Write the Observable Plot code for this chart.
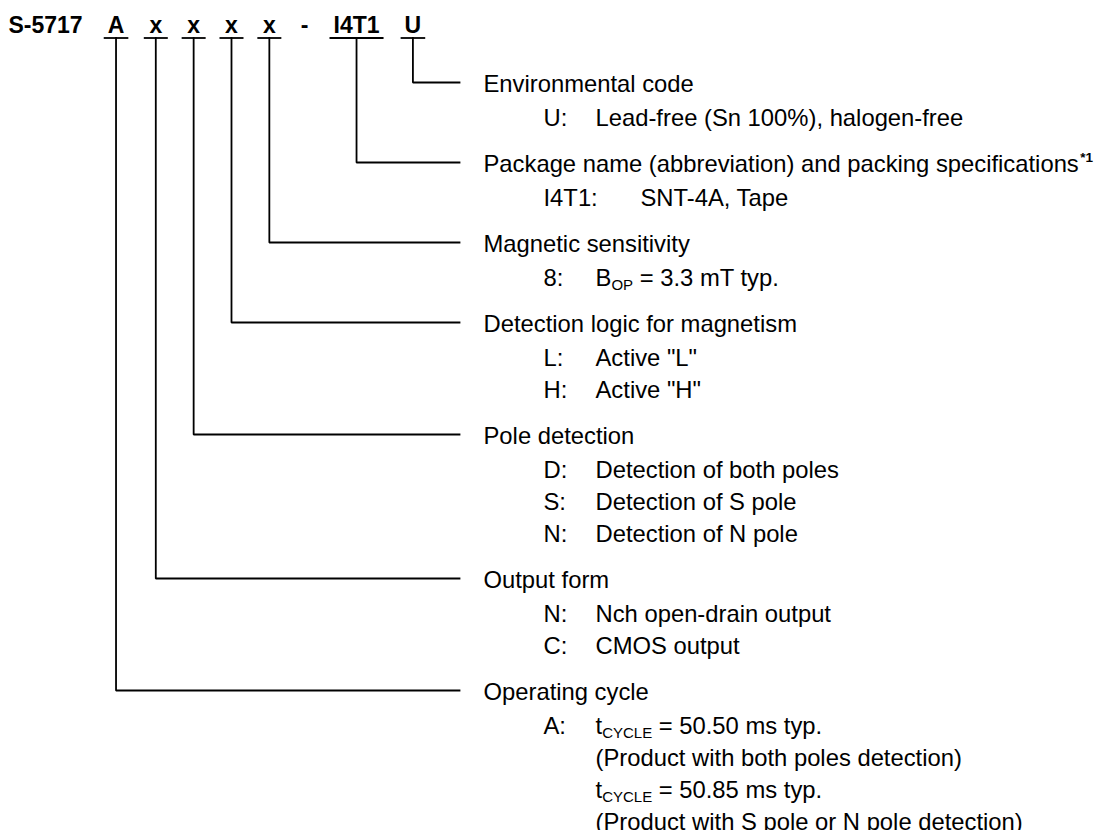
<!DOCTYPE html>
<html><head><meta charset="utf-8">
<script src="https://cdn.jsdelivr.net/npm/d3@7"></script>
<script src="https://cdn.jsdelivr.net/npm/@observablehq/plot@0.6"></script>
<style>
html,body{margin:0;padding:0;background:#fff;}
#chart svg text{white-space:pre;}
</style></head><body><div id="chart"></div>
<script>
// ---- data ----
const prefix = "S-5717";
const codeTokens = ["A", "x", "x", "x", "x", "-", "I4T1", "U"];
const fieldTitles = [
  "Environmental code",
  "Package name (abbreviation) and packing specifications^{*1}",
  "Magnetic sensitivity",
  "Detection logic for magnetism",
  "Pole detection",
  "Output form",
  "Operating cycle"
];
const fieldToken = [7, 6, 4, 3, 2, 1, 0];
const fieldKeys = [
  ["U:"],
  ["I4T1:"],
  ["8:"],
  ["L:", "H:"],
  ["D:", "S:", "N:"],
  ["N:", "C:"],
  ["A:", "", "", ""]
];
const fieldValues = [
  ["Lead-free (Sn 100%), halogen-free"],
  ["SNT-4A, Tape"],
  ["B_{OP} = 3.3 mT typ."],
  ['Active "L"', 'Active "H"'],
  ["Detection of both poles", "Detection of S pole", "Detection of N pole"],
  ["Nch open-drain output", "CMOS output"],
  ["t_{CYCLE} = 50.50 ms typ.", "(Product with both poles detection)", "t_{CYCLE} = 50.85 ms typ.", "(Product with S pole or N pole detection)"]
];

// ---- layout ----
const W = 1095, H = 830;
const family = "'Liberation Sans', Arial, Helvetica, sans-serif";
const codeSize = 23, bodySize = 23.8, subSize = 15, supSize = 13.5;
const codeFont = `bold ${codeSize}px ${family}`;
const bodyFont = `${bodySize}px ${family}`;
const ctx = document.createElement("canvas").getContext("2d");
const measure = (t, f) => { ctx.font = f; return ctx.measureText(t).width; };

const codeLeft = 8, codeBaseline = 32, underlineY = 37.5;
const gap = 4 * measure(" ", codeFont) - 0.5;
let cursor = codeLeft + measure(prefix, codeFont) + gap;
const tokens = codeTokens.map((t, i) => {
  const w = measure(t, codeFont);
  const cx = cursor + w / 2;
  cursor += w + gap;
  const uw = Math.max(w + 8, 24);
  return {t, i, cx, x1: cx - uw / 2, x2: cx + uw / 2, underline: t !== "-"};
});

const titleX = 483, keyX = 543, branchEnd = 459;
const firstY = 82, firstItem = 34, rowH = 32, fieldGap = 46, textDy = 1.5;
const titles = [], items = [], branches = [];
let y = firstY;
fieldTitles.forEach((title, f) => {
  titles.push({text: title, y});
  const tok = tokens[fieldToken[f]];
  branches.push({id: f, x: tok.cx, y: underlineY}, {id: f, x: tok.cx, y}, {id: f, x: branchEnd, y});
  fieldKeys[f].forEach((k, j) => {
    const ry = y + firstItem + j * rowH;
    const kw = measure(k, bodyFont);
    let vx = keyX + 52;
    while (keyX + kw + 16 > vx) vx += 45;
    items.push({key: k, value: fieldValues[f][j], y: ry, vx});
  });
  y += firstItem + (fieldKeys[f].length - 1) * rowH + fieldGap;
});

const textBase = {fill: "black", textAnchor: "start", lineAnchor: "middle", fontFamily: family};
const chart = Plot.plot({
  width: W, height: H, margin: 0, inset: 0,
  x: {domain: [0, W], range: [0, W], axis: null},
  y: {domain: [0, H], range: [0, H], axis: null},
  style: {background: "white", fontFamily: family, overflow: "visible"},
  marks: [
    Plot.line(branches, {x: "x", y: "y", z: "id", stroke: "black", strokeWidth: 1.8, strokeLinejoin: "miter", strokeLinecap: "square"}),
    Plot.link(tokens.filter(d => d.underline), {x1: "x1", x2: "x2", y1: () => underlineY, y2: () => underlineY, stroke: "black", strokeWidth: 1.8}),
    Plot.text([prefix], {...textBase, x: () => codeLeft, y: () => codeBaseline - 0.32 * codeSize, text: d => d, fontSize: codeSize, fontWeight: "bold"}),
    Plot.text(tokens, {...textBase, textAnchor: "middle", x: "cx", y: () => codeBaseline - 0.32 * codeSize, text: "t", fontSize: codeSize, fontWeight: "bold"}),
    Plot.text(titles, {...textBase, x: () => titleX, y: d => d.y + textDy, text: "text", fontSize: bodySize}),
    Plot.text(items, {...textBase, x: () => keyX, y: d => d.y + textDy, text: "key", fontSize: bodySize}),
    Plot.text(items, {...textBase, x: "vx", y: d => d.y + textDy, text: "value", fontSize: bodySize})
  ]
});

// rich text: _{sub} and ^{sup}
chart.querySelectorAll("text").forEach(el => {
  const s = el.textContent;
  if (!/[_^]\{/.test(s)) return;
  el.textContent = "";
  let shift = 0;
  s.split(/([_^]\{[^}]*\})/).filter(p => p).forEach(p => {
    const ts = document.createElementNS("http://www.w3.org/2000/svg", "tspan");
    let target = 0;
    if (p.startsWith("_{")) { ts.textContent = p.slice(2, -1); ts.setAttribute("font-size", subSize); target = 4.5; }
    else if (p.startsWith("^{")) { ts.textContent = p.slice(2, -1); ts.setAttribute("font-size", supSize); ts.setAttribute("font-weight", "bold"); ts.setAttribute("dx", 1.5); target = -9.5; }
    else ts.textContent = p;
    if (target - shift) ts.setAttribute("dy", target - shift);
    shift = target;
    el.appendChild(ts);
  });
});
document.getElementById("chart").appendChild(chart);
</script></body></html>
